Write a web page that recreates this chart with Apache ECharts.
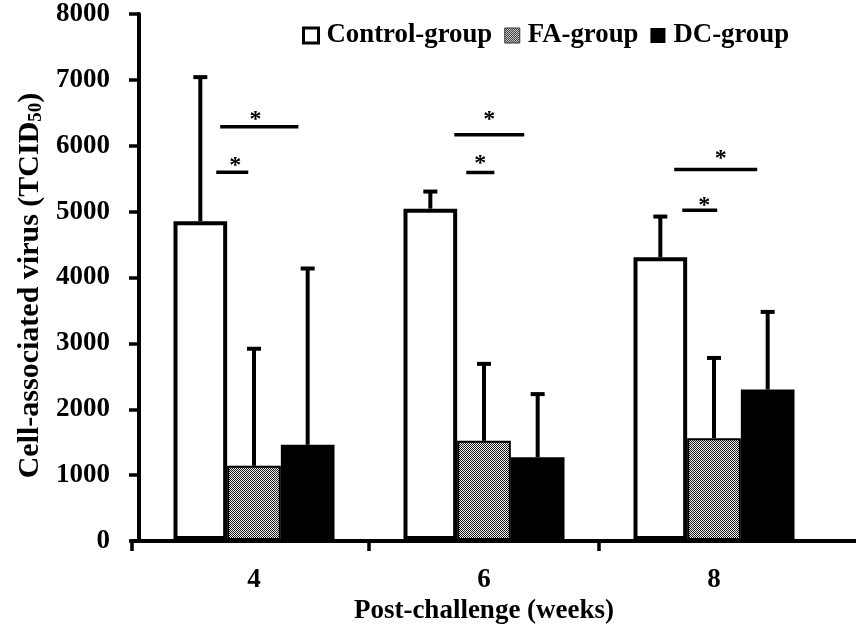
<!DOCTYPE html>
<html>
<head>
<meta charset="utf-8">
<script src="https://cdn.jsdelivr.net/npm/echarts@6/dist/echarts.min.js"></script>
<style>html,body{margin:0;padding:0;background:#fff}#c{width:856px;height:630px}</style>
</head>
<body>
<div id="c"></div>
<script>
// ---- data ----
const categories = ['4', '6', '8'];
const seriesNames = ['Control-group', 'FA-group', 'DC-group'];
const controlMean = [4850, 5040, 4300];
const controlErrTop = [7040, 5300, 4920];
const faMean = [1130, 1510, 1550];
const faErrTop = [2910, 2680, 2770];
const dcMean = [1450, 1260, 2290];
const dcErrTop = [4130, 2220, 3470];
const yTicks = [0, 1000, 2000, 3000, 4000, 5000, 6000, 7000, 8000];
// significance bars: [categoryIndex, x0 (band frac), x1 (band frac), lineValue, starX (band frac), starValue]
const sigMarks = [
  [0, -0.164, -0.025, 5595, -0.081, 5768],
  [0, -0.147, 0.193, 6285, 0.006, 6467],
  [1, -0.077, 0.045, 5590, -0.016, 5799],
  [1, -0.129, 0.175, 6163, 0.023, 6467],
  [2, -0.138, 0.014, 5014, -0.042, 5162],
  [2, -0.173, 0.188, 5636, 0.029, 5875]
];

// ---- styles ----
const FONT = '"Liberation Serif", "Times New Roman", serif';
const CAT_GAP = 0.3;

const pc = document.createElement('canvas');
pc.width = 2; pc.height = 2;
const pctx = pc.getContext('2d');
pctx.fillStyle = '#f2f2f2'; pctx.fillRect(0, 0, 2, 2);
pctx.fillStyle = '#1a1a1a'; pctx.fillRect(0, 0, 1, 1); pctx.fillRect(1, 1, 1, 1);
const faPattern = { image: pc, repeat: 'repeat' };

function errRender(offsetIdx) {
  return function (params, api) {
    const i = api.value(0);
    const base = api.coord([i, api.value(1)]);
    const top = api.coord([i, api.value(2)]);
    const band = api.size([1, 0])[0];
    const bw = band * (1 - CAT_GAP) / 3;
    const x = base[0] + offsetIdx * bw;
    return {
      type: 'group',
      children: [
        { type: 'line', shape: { x1: x, y1: base[1], x2: x, y2: top[1] }, style: { stroke: '#000', lineWidth: 4 } },
        { type: 'line', shape: { x1: x - 7, y1: top[1], x2: x + 7, y2: top[1] }, style: { stroke: '#000', lineWidth: 4 } }
      ]
    };
  };
}

function sigRender(params, api) {
  const cat = api.value(0);
  const c = api.coord([cat, api.value(3)]);
  const s = api.coord([cat, api.value(5)]);
  const band = api.size([1, 0])[0];
  return {
    type: 'group',
    children: [
      { type: 'line', shape: { x1: c[0] + api.value(1) * band, y1: c[1], x2: c[0] + api.value(2) * band, y2: c[1] },
        style: { stroke: '#000', lineWidth: 3.5 } },
      { type: 'text', x: c[0] + api.value(4) * band, y: s[1] + 5,
        style: { text: '*', font: 'bold 24px ' + FONT, fill: '#000', align: 'center', verticalAlign: 'middle' } }
    ]
  };
}

const chart = echarts.init(document.getElementById('c'), null, { renderer: 'canvas' });
chart.setOption({
  animation: false,
  backgroundColor: '#fff',
  legend: {
    left: 297, top: 17,
    itemWidth: 15, itemHeight: 15, itemGap: 12,
    icon: 'rect',
    textStyle: { fontFamily: FONT, fontWeight: 'bold', fontSize: 26.8, color: '#000', padding: [0, 0, 0, 3] },
    data: [
      { name: seriesNames[0], itemStyle: { color: '#fff', borderColor: '#000', borderWidth: 3 } },
      { name: seriesNames[1], itemStyle: { color: faPattern, borderColor: '#333', borderWidth: 1 } },
      { name: seriesNames[2], itemStyle: { color: '#000', borderWidth: 0 } }
    ]
  },
  grid: [
    { left: 139, right: 27, top: 14, bottom: 89 },
    { left: 132, right: 0, top: 14, bottom: 89 }
  ],
  xAxis: [
    {
      type: 'category', gridIndex: 0, data: categories,
      axisLine: { show: false }, axisTick: { show: false },
      axisLabel: { fontFamily: FONT, fontWeight: 'bold', fontSize: 27, color: '#000', margin: 26 },
      name: 'Post-challenge (weeks)', nameLocation: 'middle', nameGap: 56,
      nameTextStyle: { fontFamily: FONT, fontWeight: 'bold', fontSize: 27, color: '#000' }
    },
    {
      type: 'value', gridIndex: 1, min: -7 / 230, max: 3 + 27 / 230,
      axisLine: { show: true, lineStyle: { color: '#000', width: 4 } },
      axisTick: { show: true, length: 10, lineStyle: { color: '#000', width: 3.5 }, customValues: [-7 / 230, 1, 2] },
      axisLabel: { show: false }, splitLine: { show: false }
    }
  ],
  yAxis: [
    { type: 'value', gridIndex: 0, min: 0, max: 8000, interval: 1000, show: false, splitLine: { show: false } },
    {
      type: 'value', gridIndex: 1, min: 0, max: 8000, interval: 1000,
      axisLine: { show: true, lineStyle: { color: '#000', width: 4 } },
      axisTick: { show: true, length: 10, lineStyle: { color: '#000', width: 3.5 } },
      splitLine: { show: false },
      axisLabel: { fontFamily: FONT, fontWeight: 'bold', fontSize: 27, color: '#000', margin: 22,
        customValues: yTicks, formatter: function (v) { return String(v); } },
      name: '{a|Cell-associated virus (TCID}{b|50}{a|)}', nameLocation: 'middle', nameGap: 83, nameRotate: 90,
      nameTextStyle: {
        padding: [0, 16, 0, 0],
        rich: {
          a: { fontFamily: FONT, fontWeight: 'bold', fontSize: 30, color: '#000' },
          b: { fontFamily: FONT, fontWeight: 'bold', fontSize: 19, color: '#000', verticalAlign: 'bottom', padding: [7, 0, 0, 0] }
        }
      }
    }
  ],
  series: [
    { name: seriesNames[0], type: 'bar', xAxisIndex: 0, yAxisIndex: 0, data: controlMean,
      barGap: '0%', barCategoryGap: '30%',
      itemStyle: { color: '#fff', borderColor: '#000', borderWidth: 4 } },
    { name: seriesNames[1], type: 'bar', xAxisIndex: 0, yAxisIndex: 0, data: faMean,
      itemStyle: { color: faPattern, borderColor: '#000', borderWidth: 2 } },
    { name: seriesNames[2], type: 'bar', xAxisIndex: 0, yAxisIndex: 0, data: dcMean,
      itemStyle: { color: '#000' } },
    { type: 'custom', xAxisIndex: 0, yAxisIndex: 0, renderItem: errRender(-1), z: 5,
      data: controlMean.map((m, i) => [i, m, controlErrTop[i]]) },
    { type: 'custom', xAxisIndex: 0, yAxisIndex: 0, renderItem: errRender(0), z: 5,
      data: faMean.map((m, i) => [i, m, faErrTop[i]]) },
    { type: 'custom', xAxisIndex: 0, yAxisIndex: 0, renderItem: errRender(1), z: 5,
      data: dcMean.map((m, i) => [i, m, dcErrTop[i]]) },
    { type: 'custom', xAxisIndex: 0, yAxisIndex: 0, renderItem: sigRender, z: 5, data: sigMarks }
  ]
});
</script>
</body>
</html>
